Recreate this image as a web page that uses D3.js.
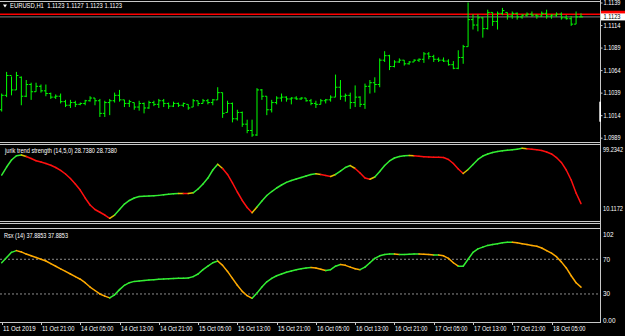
<!DOCTYPE html>
<html><head><meta charset="utf-8">
<script src="https://cdn.jsdelivr.net/npm/d3@7"></script>
<style>
html,body{margin:0;padding:0;background:#000;overflow:hidden}
svg{display:block}
text{font-family:"Liberation Sans",Arial,sans-serif;font-size:6.4px;fill:#fff;white-space:pre}
</style>
</head><body><svg id="c" width="625" height="336"></svg>
<script>
// ---------- DATA ----------
const symbolTitle = "EURUSD,H1";
const openP = [1.1020,1.1036,1.1058,1.1042,1.1056,1.1035,1.1048,1.1040,1.1046,1.1041,
1.1038,1.1034,1.1035,1.1029,1.1025,1.1028,1.1026,1.1027,1.1030,1.1033,
1.1030,1.1016,1.1028,1.1030,1.1036,1.1031,1.1027,1.1028,1.1023,1.1027,
1.1022,1.1028,1.1026,1.1030,1.1027,1.1024,1.1027,1.1025,1.1026,1.1023,
1.1030,1.1027,1.1030,1.1028,1.1031,1.1039,1.1017,1.1027,1.1010,1.1017,
1.1004,1.0997,1.0992,1.1042,1.1035,1.1020,1.1028,1.1033,1.1034,1.1032,
1.1033,1.1032,1.1033,1.1030,1.1027,1.1026,1.1030,1.1031,1.1034,1.1045,
1.1035,1.1036,1.1028,1.1034,1.1026,1.1046,1.1050,1.1048,1.1075,1.1080,
1.1068,1.1073,1.1075,1.1071,1.1073,1.1075,1.1076,1.1082,1.1079,1.1076,
1.1075,1.1074,1.1070,1.1066,1.1078,1.1090,1.1120,1.1114,1.1122,1.1110,
1.1128,1.1118,1.1127,1.1128,1.1124,1.1127,1.1123,1.1125,1.1126,1.1125,
1.1124,1.1127,1.1124,1.1125,1.1126,1.1122,1.1121,1.1115,1.1123];
const highP = [1.1038,1.1062,1.1057,1.1062,1.1057,1.1053,1.1050,1.1050,1.1048,1.1048,
1.1039,1.1037,1.1038,1.1031,1.1031,1.1030,1.1028,1.1031,1.1035,1.1033,
1.1032,1.1030,1.1032,1.1039,1.1042,1.1031,1.1031,1.1028,1.1030,1.1028,
1.1030,1.1030,1.1032,1.1032,1.1028,1.1029,1.1028,1.1028,1.1026,1.1032,
1.1030,1.1032,1.1032,1.1032,1.1045,1.1039,1.1030,1.1028,1.1020,1.1018,
1.1009,1.1009,1.1044,1.1043,1.1035,1.1031,1.1035,1.1038,1.1035,1.1034,
1.1035,1.1034,1.1033,1.1032,1.1030,1.1032,1.1032,1.1036,1.1059,1.1053,
1.1038,1.1039,1.1047,1.1035,1.1049,1.1053,1.1056,1.1077,1.1085,1.1081,
1.1075,1.1077,1.1075,1.1074,1.1076,1.1077,1.1084,1.1084,1.1081,1.1078,
1.1078,1.1076,1.1074,1.1086,1.1092,1.1139,1.1126,1.1126,1.1123,1.1131,
1.1128,1.1129,1.1133,1.1128,1.1129,1.1128,1.1126,1.1128,1.1129,1.1126,
1.1129,1.1131,1.1126,1.1128,1.1128,1.1125,1.1124,1.1129,1.1127];
const lowP = [1.1018,1.1034,1.1036,1.1042,1.1025,1.1034,1.1031,1.1040,1.1039,1.1035,
1.1032,1.1032,1.1027,1.1023,1.1022,1.1023,1.1025,1.1025,1.1029,1.1025,
1.1012,1.1012,1.1014,1.1028,1.1029,1.1023,1.1023,1.1020,1.1019,1.1016,
1.1021,1.1024,1.1022,1.1023,1.1021,1.1023,1.1023,1.1023,1.1020,1.1023,
1.1024,1.1027,1.1026,1.1025,1.1031,1.1011,1.1017,1.1006,1.1008,1.1001,
1.0994,1.0990,1.0991,1.1031,1.1014,1.1017,1.1026,1.1029,1.1029,1.1026,
1.1031,1.1031,1.1029,1.1025,1.1022,1.1026,1.1027,1.1029,1.1034,1.1031,
1.1029,1.1021,1.1023,1.1023,1.1021,1.1038,1.1039,1.1045,1.1073,1.1064,
1.1067,1.1072,1.1069,1.1070,1.1073,1.1073,1.1072,1.1076,1.1073,1.1073,
1.1073,1.1069,1.1065,1.1065,1.1071,1.1090,1.1109,1.1107,1.1100,1.1109,
1.1113,1.1109,1.1125,1.1120,1.1121,1.1120,1.1121,1.1123,1.1123,1.1121,
1.1123,1.1121,1.1121,1.1123,1.1120,1.1120,1.1113,1.1115,1.1123];
const closeP = [1.1036,1.1058,1.1042,1.1058,1.1035,1.1048,1.1040,1.1046,1.1041,1.1038,
1.1034,1.1035,1.1029,1.1025,1.1028,1.1026,1.1027,1.1030,1.1033,1.1030,
1.1016,1.1028,1.1030,1.1036,1.1031,1.1027,1.1029,1.1023,1.1027,1.1022,
1.1028,1.1026,1.1030,1.1027,1.1024,1.1027,1.1025,1.1027,1.1022,1.1030,
1.1027,1.1030,1.1028,1.1031,1.1039,1.1016,1.1027,1.1010,1.1017,1.1004,
1.0997,1.0992,1.1042,1.1035,1.1020,1.1028,1.1033,1.1034,1.1032,1.1033,
1.1032,1.1033,1.1030,1.1027,1.1026,1.1030,1.1031,1.1034,1.1045,1.1035,
1.1036,1.1028,1.1034,1.1026,1.1046,1.1050,1.1048,1.1075,1.1080,1.1068,
1.1073,1.1075,1.1071,1.1073,1.1075,1.1076,1.1082,1.1079,1.1076,1.1075,
1.1074,1.1070,1.1066,1.1078,1.1090,1.1120,1.1114,1.1122,1.1110,1.1128,
1.1118,1.1127,1.1130,1.1124,1.1127,1.1123,1.1125,1.1126,1.1125,1.1124,
1.1127,1.1124,1.1125,1.1126,1.1122,1.1121,1.1115,1.1123,1.1123];
const priceTicks = [1.1139,1.1114,1.1089,1.1064,1.1039,1.1014,1.0989];
const redLineLevel = 1.1126;

const jurikName = "jurik trend strength (14,5,0)";
const jurik = [65.2,75.4,84.3,89.8,90.7,88.8,86.2,83.4,81.8,79.9,
77.6,74.8,71.0,66.5,60.8,53.8,46.1,36.0,27.0,21.3,
17.8,14.3,10.1172,14.3,21.3,28.3,32.8,36.0,37.9,38.3,
38.5,38.8,39.3,40.0,40.8,41.4,41.8,41.7,41.6,42.6,
47.4,53.8,61.4,71.6,78.9,73.5,65.9,55.1,43.6,32.8,
23.9,17.2,24.5,32.1,39.1,44.2,48.7,52.5,55.9,58.2,
60.2,62.1,64.0,65.9,66.8,65.9,64.6,63.3,65.9,70.3,
74.8,77.3,73.5,67.8,61.4,59.8,62.7,69.7,77.3,83.1,
86.9,88.8,89.7,90.1,89.7,89.2,88.5,88.2,87.9,87.8,
87.5,85.0,79.9,72.9,67.2,72.2,78.6,85.0,89.4,92.0,
93.9,95.2,96.0,96.8,97.3,98.0,99.2342,98.6,98.1,97.5,
96.4,94.5,92.0,87.5,81.2,71.6,58.9,42.3,28.738];
const jurikTicks = [99.2342,10.1172];

const rsxName = "Rsx (14)";
const rsx = [66,72,78,80,78.5,76,74,72,70,68,
65,62,59,56,53,50,47,43,38,34,
30,27.5,25.5,29,35,40,43,44.5,45,45.5,
46,46.5,47,47.2,47.5,47.8,48,48,48.5,50,
53,58,62,66,68,63,56,48,40,33,
28,25,31,38,44,48,51,53,55,56.5,
58,59,60,60.5,60,58.5,57,58,62,64,
63,61,59,58,61,66,71,74,75.5,76,
76,75.5,75.5,75.8,76,76,75.8,75.5,75,75,
74,71,66,62,62,70,78,82,84,86,
87,88,89,89.5,89.5,89,88,87,86,85,
83,80,77,73,67,60,51,43,37.8853];
const rsxLevels = [70,30];
const rsxTickLabels = ["102","70","30","0.00"];

const timeLabels = ["11 Oct 2019","11 Oct 21:00","14 Oct 05:00","14 Oct 13:00","14 Oct 21:00",
"15 Oct 05:00","15 Oct 13:00","15 Oct 21:00","16 Oct 05:00","16 Oct 13:00","16 Oct 21:00",
"17 Oct 05:00","17 Oct 13:00","17 Oct 21:00","18 Oct 05:00"];
const timeLabelBars = [0,8,16,24,32,40,48,56,64,72,80,88,96,104,112];

// ---------- DRAW ----------
const W=625,H=336;
const svg=d3.select('#c');
svg.append('rect').attr('width',W).attr('height',H).attr('fill','#000');
const n=closeP.length;
const x=d3.scaleLinear().domain([0,n-1]).range([1.7,581]);
const yM=d3.scaleLinear().domain([1.0989,1.1139]).range([137.7,2.5]);
const yJ=d3.scaleLinear().domain([10.1172,99.2342]).range([218.3,148.3]);
const yR=d3.scaleLinear().domain([0,100]).range([320,233.25]);
const axisX=600.5, border='#c8c8c8';

const defs=svg.append('defs');
defs.append('clipPath').attr('id','cm').append('rect').attr('x',0).attr('y',2).attr('width',600).attr('height',140);

// price lines
const gm=svg.append('g').attr('clip-path','url(#cm)');
gm.append('line').attr('x1',0).attr('x2',axisX).attr('y1',yM(redLineLevel)).attr('y2',yM(redLineLevel))
  .attr('stroke','#ff0000').attr('stroke-width',1.5);
gm.append('line').attr('x1',0).attr('x2',axisX).attr('y1',yM(closeP[n-1])).attr('y2',yM(closeP[n-1]))
  .attr('stroke','#a0a0a0').attr('stroke-width',0.8);

// OHLC bars
gm.selectAll('path.bar').data(d3.range(n)).join('path').attr('class','bar')
  .attr('d',i=>{const xi=x(i);return `M${xi},${yM(highP[i])}V${yM(lowP[i])}M${xi-2},${yM(openP[i])}H${xi}M${xi},${yM(closeP[i])}H${xi+2}`;})
  .attr('stroke','#00ff00').attr('stroke-width',1).attr('fill','none');

// price axis
const pa=svg.append('g').attr('transform',`translate(${axisX},0)`)
  .call(d3.axisRight(yM).tickValues(priceTicks).tickSize(2).tickFormat(d3.format('.4f')));
pa.select('.domain').remove();
pa.selectAll('line').attr('stroke',border);
pa.selectAll('text').attr('x',3).attr('fill','#fff').attr('textLength',17).attr('lengthAdjust','spacingAndGlyphs')
  .style('font-family','"Liberation Sans",Arial,sans-serif').style('font-size','6.4px');

// current price labels
svg.append('rect').attr('x',axisX).attr('y',yM(redLineLevel)-3.5).attr('width',25).attr('height',7).attr('fill','#ff0000');
svg.append('rect').attr('x',axisX).attr('y',yM(closeP[n-1])-3.5).attr('width',25).attr('height',7).attr('fill','#fff');
svg.append('text').attr('x',axisX+3).attr('y',yM(closeP[n-1])+2.3).attr('textLength',17).attr('lengthAdjust','spacingAndGlyphs')
  .style('fill','#000').text(closeP[n-1].toFixed(4));

// title
svg.append('path').attr('d','M3,4.5L7,4.5L5,7.5Z').attr('fill','#fff');
svg.append('text').attr('x',10).attr('y',8.3).attr('textLength',112).attr('lengthAdjust','spacingAndGlyphs')
  .text(`${symbolTitle}  ${openP[n-1].toFixed(4)} ${highP[n-1].toFixed(4)} ${lowP[n-1].toFixed(4)} ${closeP[n-1].toFixed(4)}`);

// Jurik
const gj=svg.append('g');
for(let i=0;i<n-1;i++){
  const d=jurik[i+1]-jurik[i];
  const dp=i>0?jurik[i]-jurik[i-1]:d;
  let col=d>=0?'#33ee33':'#ff1010';
  if(i>0 && Math.sign(d)!==Math.sign(dp)) col='#e0c000';
  gj.append('line').attr('x1',x(i)).attr('y1',yJ(jurik[i])).attr('x2',x(i+1)).attr('y2',yJ(jurik[i+1]))
    .attr('stroke',col).attr('stroke-width',1.5).attr('stroke-linecap','round');
}
svg.append('text').attr('x',5).attr('y',152.8).attr('textLength',112).attr('lengthAdjust','spacingAndGlyphs')
  .text(`${jurikName} ${jurik[n-1].toFixed(4)} ${jurik[n-1].toFixed(4)}`);
svg.append('text').attr('x',603).attr('y',yJ(jurikTicks[0])+4).attr('textLength',20).attr('lengthAdjust','spacingAndGlyphs').text(jurikTicks[0].toFixed(4));
svg.append('text').attr('x',603).attr('y',yJ(jurikTicks[1])-7).attr('textLength',20).attr('lengthAdjust','spacingAndGlyphs').text(jurikTicks[1].toFixed(4));

// RSX
const gr=svg.append('g');
rsxLevels.forEach(l=>gr.append('line').attr('x1',0).attr('x2',axisX).attr('y1',yR(l)).attr('y2',yR(l))
  .attr('stroke','#b0b0b0').attr('stroke-width',0.8).attr('stroke-dasharray','2,2'));
for(let i=0;i<n-1;i++){
  const d=rsx[i+1]-rsx[i];
  gr.append('line').attr('x1',x(i)).attr('y1',yR(rsx[i])).attr('x2',x(i+1)).attr('y2',yR(rsx[i+1]))
    .attr('stroke',d>=0?'#33ee33':'#ffaa00').attr('stroke-width',1.5).attr('stroke-linecap','round');
}
svg.append('text').attr('x',4).attr('y',238).attr('textLength',64).attr('lengthAdjust','spacingAndGlyphs')
  .text(`${rsxName} ${rsx[n-1].toFixed(4)} ${rsx[n-1].toFixed(4)}`);
const rsxTickY=[237,261.6,296.3,323];
rsxTickLabels.forEach((t,k)=>svg.append('text').attr('x',603).attr('y',rsxTickY[k]).text(t));

// borders
const bl=(x1,y1,x2,y2)=>svg.append('line').attr('x1',x1).attr('y1',y1).attr('x2',x2).attr('y2',y2).attr('stroke',border).attr('stroke-width',1);
bl(0,1.5,axisX,1.5);
bl(0,142.5,axisX,142.5);
bl(0,144.5,axisX,144.5);
bl(0,221.5,axisX,221.5);
bl(0,223.5,axisX,223.5);
bl(0,228.5,axisX,228.5);
bl(0,322.5,axisX,322.5);
bl(axisX,0,axisX,323);
svg.append('rect').attr('x',599.3).attr('y',101.7).attr('width',1.7).attr('height',20).attr('fill','#fff');

// time axis
const tx=svg.append('g');
timeLabelBars.forEach((b,k)=>{
  const xi=Math.round(x(b))+0.5;
  tx.append('line').attr('x1',xi).attr('x2',xi).attr('y1',322.5).attr('y2',325).attr('stroke',border);
  tx.append('text').attr('x',xi+0.5).attr('y',331).attr('textLength',32.5).attr('lengthAdjust','spacingAndGlyphs').text(timeLabels[k]);
});
</script></body></html>
